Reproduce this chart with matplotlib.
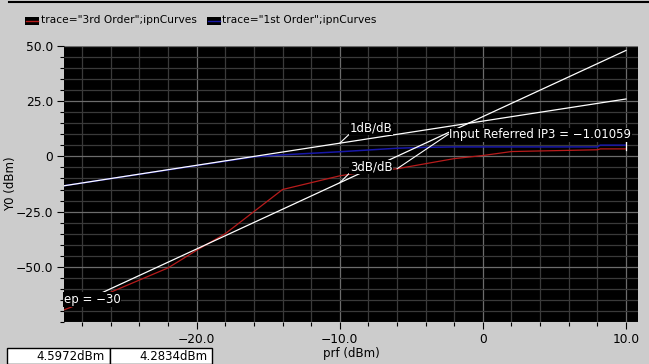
import numpy as np
import matplotlib
matplotlib.use("Agg")
import matplotlib.pyplot as plt
from matplotlib.patches import Rectangle
from matplotlib.lines import Line2D
from matplotlib.ticker import MultipleLocator, FixedLocator, FixedFormatter

# swept input power (dBm) and output power of each harmonic curve (dBm)
prf_3rd = [-29.27, -26, -22, -20, -18, -14, -10, -8, -6, -2, 0, 2, 8, 8.2, 10]
y_3rd = [-69.5, -61.5, -50.5, -42.5, -35.0, -15.0, -8.8, -6.8, -5.6, -1.0, 0.4, 2.2, 3.0, 3.4, 3.4]
prf_1st = [-29.27, -16, -14, -10, -6, -4, -2, 0, 8, 8.2, 10]
y_1st = [-13.3, -0.2, 0.7, 2.1, 3.7, 4.1, 4.3, 4.3, 4.3, 5.1, 5.1]

# extrapolated 1dB/dB and 3dB/dB lines
ext1_x = [-29.27, 10.0]
ext1_y = [-13.3, 26.0]
ext3_x = [-26.7, 10.0]
ext3_y = [-62.0, 48.0]

x_ticks = [-20, -10, 0, 10]
x_ticklabels = ["\u221220.0", "\u221210.0", "0", "10.0"]
y_ticks = [-50, -25, 0, 25, 50]
y_ticklabels = ["\u221250.0", "\u221225.0", "0", "25.0", "50.0"]

legend_labels = ['trace="3rd Order";ipnCurves', 'trace="1st Order";ipnCurves']
marker_values = ["4.5972dBm", "4.2834dBm"]
ip3_text = "Input Referred IP3 = \u22121.01059"

RED = "#b81c1c"
BLUE = "#1818a8"
BG = "#cccccc"
W, H = 649, 364

fig = plt.figure(figsize=(W / 100, H / 100), dpi=100, facecolor=BG)
ax = fig.add_axes([64 / W, (H - 322) / H, 574 / W, 276 / H])
ax.set_facecolor("black")
for s in ax.spines.values():
    s.set_visible(False)

ax.set_xlim(-29.27, 10.84)
ax.set_ylim(-75, 50)

ax.xaxis.set_major_locator(FixedLocator(x_ticks))
ax.xaxis.set_major_formatter(FixedFormatter(x_ticklabels))
ax.xaxis.set_minor_locator(MultipleLocator(2))
ax.yaxis.set_major_locator(FixedLocator(y_ticks))
ax.yaxis.set_major_formatter(FixedFormatter(y_ticklabels))
ax.yaxis.set_minor_locator(MultipleLocator(5))

ax.grid(which="minor", color="#3a3a3a", lw=0.9)
ax.grid(which="major", color="#6c6c6c", lw=0.9)
ax.set_axisbelow(True)
ax.tick_params(which="major", direction="out", length=5, width=0.8, color="black",
               labelsize=8.8, pad=3)
ax.tick_params(which="minor", direction="out", length=3, width=0.8, color="black")

ax.set_xlabel("prf (dBm)", fontsize=8.5, labelpad=1)
ax.set_ylabel("Y0 (dBm)", fontsize=8.5)
ax.yaxis.set_label_coords(-0.082, 0.5)

# curves and extrapolation lines
ax.plot(ext1_x, ext1_y, color="white", lw=0.9, zorder=3)
ax.plot(ext3_x, ext3_y, color="white", lw=0.9, zorder=3)
ax.plot(prf_1st, y_1st, color=BLUE, lw=1.1, zorder=2)
ax.plot(prf_3rd, y_3rd, color=RED, lw=0.9, zorder=2)

# marker at the sweep end
ax.plot([prf_3rd[-1], prf_3rd[-1]], [y_3rd[-1] - 0.5, 10.5], color="white", lw=0.9, zorder=4)

lbl = dict(color="white", fontsize=8.5, va="center", ha="left", zorder=6,
           bbox=dict(facecolor="black", edgecolor="none", pad=0.5))


def leader(rel):
    return dict(arrowstyle="-", color="white", lw=0.8, shrinkA=0, shrinkB=0, relpos=rel)


ax.annotate("1dB/dB", xy=(-10, np.interp(-10, ext1_x, ext1_y)), xytext=(-9.3, 12.9),
            arrowprops=leader((0, 0.05)), **lbl)
ax.annotate("3dB/dB", xy=(-10, np.interp(-10, ext3_x, ext3_y)), xytext=(-9.3, -4.8),
            arrowprops=leader((0, 0.05)), **lbl)
ax.annotate(ip3_text, xy=(-6, np.interp(-6, prf_3rd, y_3rd)), xytext=(-2.35, 9.7),
            arrowprops=leader((0, 0.6)), **lbl)
ax.text(-29.27, -64.9, "ep = \u221230", **lbl)

# legend strip at the top
fig.add_artist(Line2D([9 / W, 1], [1 - 1.5 / H, 1 - 1.5 / H], color="black", lw=1.5))
for px, tx, col, label in [(25, 41, RED, legend_labels[0]), (207, 222, BLUE, legend_labels[1])]:
    fig.add_artist(Rectangle((px / W, 1 - 25 / H), 14 / W, 8 / H, facecolor="black",
                             edgecolor="none", transform=fig.transFigure))
    fig.add_artist(Line2D([(px + 1) / W, (px + 13) / W], [1 - 21 / H, 1 - 21 / H],
                          color=col, lw=1.0))
    fig.text(tx / W, 1 - 20 / H, label, fontsize=7.65, va="center", ha="left")

# marker readout boxes
for x0, x1, val in [(7, 110, marker_values[0]), (110, 212, marker_values[1])]:
    fig.add_artist(Rectangle((x0 / W, 0), (x1 - x0) / W, 16 / H, facecolor="white",
                             edgecolor="black", lw=1.0, transform=fig.transFigure))
    fig.text((x1 - 5) / W, 7 / H, val, fontsize=8.5, va="center", ha="right")

fig.savefig("out.png", dpi=100, facecolor=BG)
